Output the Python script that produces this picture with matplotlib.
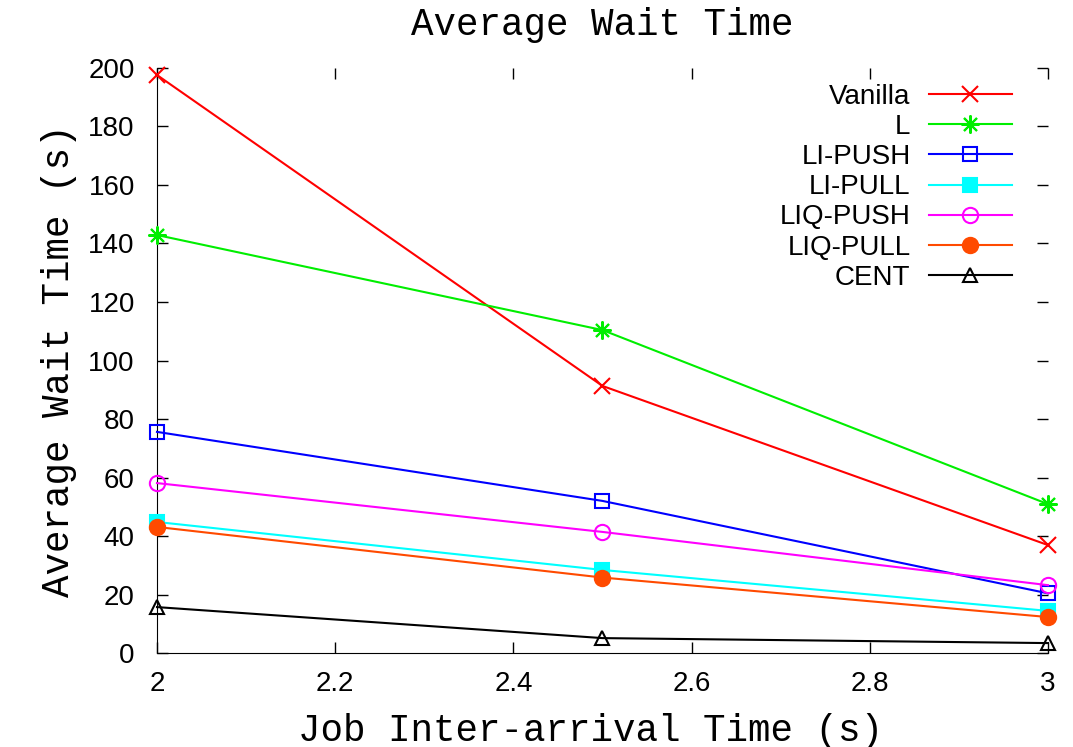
import matplotlib
matplotlib.use('Agg')
import matplotlib.pyplot as plt

x = [2.0, 2.5, 3.0]

vanilla = [197.6, 91.3, 36.9]
l_vals = [142.9, 110.4, 50.9]
li_push = [75.6, 52.0, 20.4]
li_pull = [44.8, 28.4, 14.4]
liq_push = [58.1, 41.4, 23.2]
liq_pull = [43.1, 25.8, 12.3]
cent = [15.7, 5.1, 3.4]

labels = ['Vanilla', 'L', 'LI-PUSH', 'LI-PULL', 'LIQ-PUSH', 'LIQ-PULL', 'CENT']
series = [vanilla, l_vals, li_push, li_pull, liq_push, liq_pull, cent]
colors = ['#ff0000', '#00ee00', '#0000ff', '#00ffff', '#ff00ff', '#ff4a00', '#000000']
markers = ['x', (8, 2, 0), 's', 's', 'o', 'o', '^']
sizes = [11, 13, 10, 10, 11, 11, 10]
fills = [True, True, False, True, False, True, False]

mono = 'Liberation Mono'
sans = 'Liberation Sans'

fig = plt.figure(figsize=(10.73, 7.47), dpi=100)
ax = fig.add_axes([0.1463, 0.1258, 0.8304, 0.7832])

for vals, lab, c, m, s, f in zip(series, labels, colors, markers, sizes, fills):
    ax.plot(x, vals, color=c, lw=1.5, marker=m, markersize=s,
            markerfacecolor=c if f else 'none', markeredgecolor=c,
            markeredgewidth=1.5, label=lab, clip_on=False, zorder=3)

ax.set_xlim(2, 3)
ax.set_ylim(0, 200)
ax.set_xticks([2, 2.2, 2.4, 2.6, 2.8, 3])
ax.set_xticklabels(['2', '2.2', '2.4', '2.6', '2.8', '3'])
ax.set_yticks(range(0, 201, 20))

ax.spines['top'].set_visible(False)
ax.spines['right'].set_visible(False)
ax.tick_params(direction='in', length=8, width=1, top=True, right=True,
               labelsize=20, colors='black')
ax.tick_params(axis='y', pad=16)
ax.tick_params(axis='x', pad=13)
for t in ax.get_xticklabels() + ax.get_yticklabels():
    t.set_fontfamily(sans)

ax.set_title('Average Wait Time', fontfamily=mono, fontsize=27, pad=24)
ax.set_xlabel('Job Inter-arrival Time (s)', fontfamily=mono, fontsize=27)
ax.xaxis.set_label_coords(0.487, -0.102, transform=ax.transAxes)
ax.xaxis.label.set_va('top')
ax.set_ylabel('Average Wait Time (s)', fontfamily=mono, fontsize=27, labelpad=8)

leg = ax.legend(loc='upper right', bbox_to_anchor=(0.9596, 0.973), markerfirst=False,
                frameon=False, prop={'family': sans, 'size': 20}, handlelength=3.0,
                handletextpad=0.65, labelspacing=0.15, borderpad=0, borderaxespad=0)

fig.savefig('out.png', dpi=100)
